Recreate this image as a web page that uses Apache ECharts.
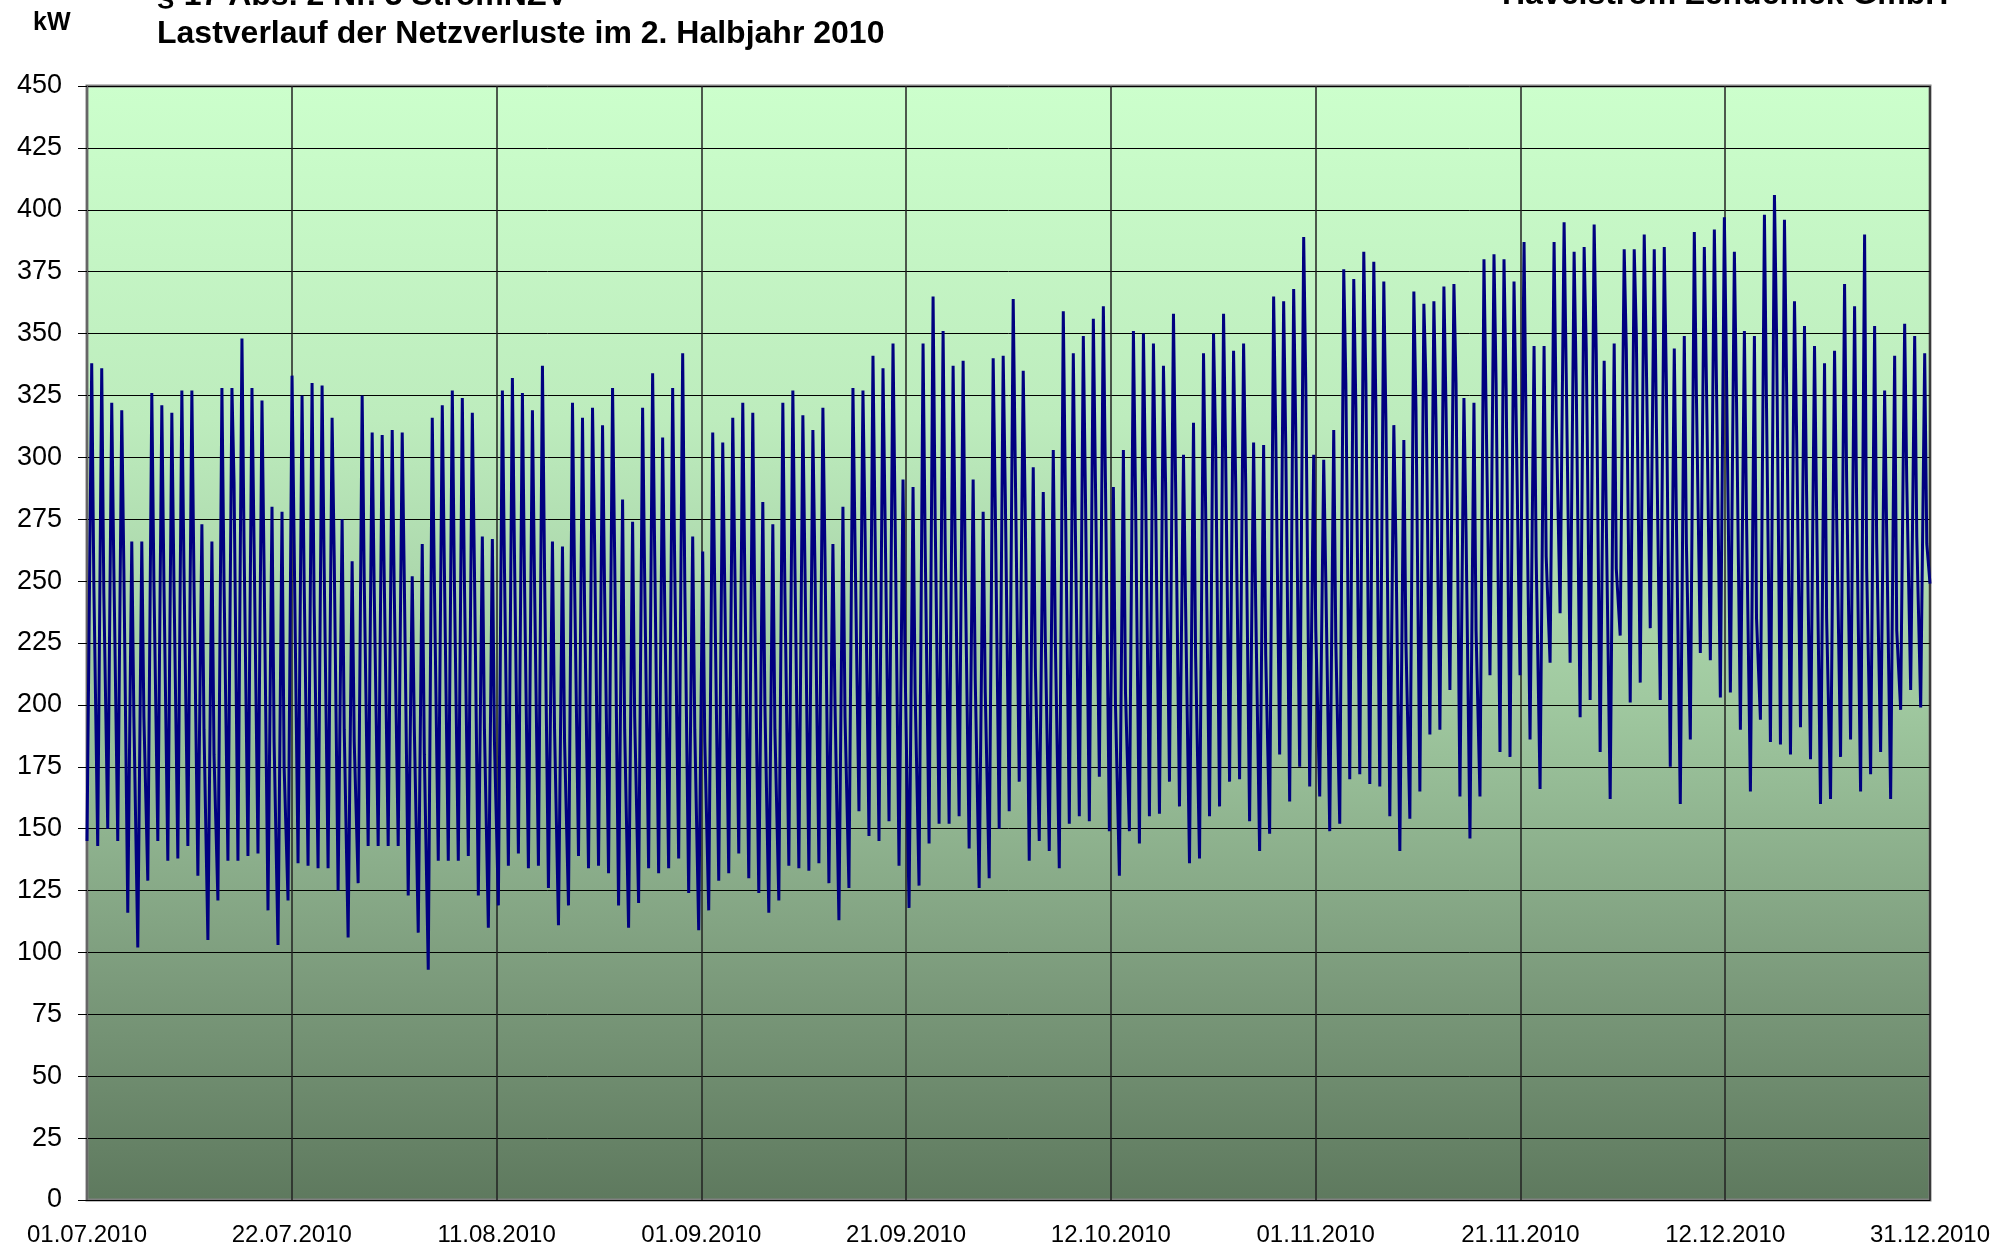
<!DOCTYPE html>
<html>
<head>
<meta charset="utf-8">
<script src="https://cdn.jsdelivr.net/npm/echarts@6/dist/echarts.min.js"></script>
<style>
  html, body { margin: 0; padding: 0; background: #fff; }
  #chart { width: 2013px; height: 1247px; }
</style>
</head>
<body>
<div id="chart"></div>
<script>
// x-axis tick labels (9 equal steps over the half year)
const dateLabels = ['01.07.2010', '22.07.2010', '11.08.2010', '01.09.2010', '21.09.2010',
  '12.10.2010', '01.11.2010', '21.11.2010', '12.12.2010', '31.12.2010'];

// daily maximum (kW), 01.07. - 31.12.
const dayPeaks = [
  338, 336, 322, 319, 266, 266, 326, 321, 318, 327, 327, 273, 266, 328, 328, 348, 328, 323, 280, 278, 333, 325, 330,
  329, 316, 275, 258, 325, 310, 309, 311, 310, 252, 265, 316, 321, 327, 324, 318, 268, 267, 327, 332, 326, 319, 337, 266,
  264, 322, 316, 320, 313, 328, 283, 274, 320, 334, 308, 328, 342, 268, 262, 310, 306, 316, 322, 318, 282, 273, 322,
  327, 317, 311, 320, 265, 280, 328, 327, 341, 336, 346, 291, 288, 346, 365, 351, 337, 339, 291, 278, 340, 341, 364,
  335, 296, 286, 303, 359, 342, 349, 356, 361, 288, 303, 351, 350, 346, 337, 358, 301, 314, 342, 350, 358, 343, 346, 306,
  305, 365, 363, 368, 389, 301, 299, 311, 376, 372, 383, 379, 371, 313, 307, 367, 362, 363, 369, 370, 324, 322, 380,
  382, 380, 371, 387, 345, 345, 387, 395, 383, 385, 394, 339, 346, 384, 384, 390, 384, 385, 344, 349, 391, 385, 392, 397,
  383, 351, 349, 398, 406, 396, 363, 353, 345, 338, 343, 370, 361, 390, 353, 327, 341, 354, 349, 342
];

// level of the afternoon / evening shoulder of each day (kW)
const eveningLevels = [
  250, 245, 255, 255, 195, 195, 250, 250, 250, 255, 250, 190, 180, 250, 290, 265, 265, 255, 185, 175, 265, 250, 240,
  255, 260, 190, 185, 250, 245, 250, 245, 250, 190, 180, 250, 255, 250, 250, 255, 190, 185, 255, 260, 250, 250, 255, 190,
  185, 250, 240, 265, 245, 260, 190, 195, 250, 260, 240, 255, 250, 190, 185, 245, 245, 255, 250, 235, 200, 190, 245,
  255, 255, 255, 260, 200, 195, 265, 270, 270, 275, 275, 215, 205, 265, 275, 265, 265, 255, 210, 205, 280, 285, 295,
  275, 215, 225, 225, 285, 270, 285, 290, 290, 200, 205, 285, 290, 285, 290, 290, 240, 220, 280, 305, 300, 290, 290, 240,
  220, 310, 305, 310, 330, 230, 250, 225, 330, 320, 330, 320, 315, 265, 225, 320, 330, 315, 320, 330, 270, 230, 320,
  330, 328, 317, 309, 260, 260, 317, 334, 330, 344, 342, 275, 255, 344, 350, 338, 315, 330, 275, 265, 325, 330, 330, 335,
  324, 276, 235, 320, 350, 330, 310, 285, 278, 235, 276, 290, 280, 255, 265, 268, 230, 290, 268, 265
];

// night minimum after each day (kW)
const nightLows = [
  143, 150, 145, 116, 102, 129, 145, 137, 138, 143, 131, 105, 121, 137, 137, 139, 140, 117, 103, 121, 136, 135, 134,
  134, 125, 106, 128, 143, 143, 143, 143, 123, 108, 93, 137, 137, 137, 139, 123, 110, 119, 135, 140, 134, 135, 126,
  111, 119, 139, 134, 135, 132, 119, 110, 120, 134, 132, 134, 138, 124, 109, 117, 129, 132, 140, 130, 124, 116, 121, 135,
  134, 133, 136, 128, 113, 126, 157, 147, 145, 153, 135, 118, 127, 144, 152, 152, 155, 142, 126, 130, 150, 157, 169,
  137, 145, 141, 134, 152, 155, 153, 171, 149, 131, 149, 144, 155, 156, 169, 159, 136, 138, 155, 159, 169, 170, 153, 141,
  148, 180, 161, 175, 167, 163, 149, 152, 170, 172, 168, 167, 155, 141, 154, 165, 188, 190, 206, 163, 146, 163, 212,
  181, 179, 212, 186, 166, 217, 237, 217, 195, 202, 181, 162, 228, 201, 209, 231, 202, 175, 160, 186, 221, 218, 203, 205,
  190, 165, 194, 185, 184, 180, 191, 178, 160, 162, 179, 186, 165, 172, 181, 162, 198, 206, 199, 249
];

const startValue = 145;

const FONT = '"Liberation Sans", Arial, Helvetica, sans-serif';

function buildPoints () {
  const days = dayPeaks.length;
  const k = (dateLabels.length - 1) / days; // days -> tick units
  const pts = [[0, startValue]];
  for (let d = 0; d < days; d++) {
    pts.push([(d + 0.47) * k, dayPeaks[d]]);
    pts.push([(d + 0.68) * k, eveningLevels[d]]);
    pts.push([Math.min(d + 1.07, days) * k, nightLows[d]]);
  }
  return pts;
}

const chart = echarts.init(document.getElementById('chart'), null, { renderer: 'canvas' });

const option = {
  animation: false,
  backgroundColor: '#fff',
  grid: {
    show: true,
    left: 87,
    top: 86,
    width: 1843,
    height: 1114,
    borderColor: '#808080',
    borderWidth: 3,
    backgroundColor: new echarts.graphic.LinearGradient(0, 0, 0, 1, [
      { offset: 0, color: '#ccffcc' },
      { offset: 0.3, color: '#bdecbd' },
      { offset: 0.55, color: '#a0c9a0' },
      { offset: 0.8, color: '#7c9b7c' },
      { offset: 1, color: '#5e795e' }
    ])
  },
  xAxis: {
    type: 'value',
    min: 0,
    max: dateLabels.length - 1,
    interval: 1,
    axisLine: { show: true, lineStyle: { color: '#000', width: 1 } },
    axisTick: { show: false },
    splitLine: { show: true, lineStyle: { color: '#222', width: 1.5 } },
    axisLabel: {
      color: '#000',
      fontFamily: FONT,
      fontSize: 24,
      margin: 23,
      showMinLabel: true,
      showMaxLabel: true,
      formatter: v => dateLabels[Math.round(v)] || ''
    }
  },
  yAxis: {
    type: 'value',
    min: 0,
    max: 450,
    interval: 25,
    axisLine: { show: true, lineStyle: { color: '#666', width: 2 } },
    axisTick: { show: true, inside: false, length: 9, lineStyle: { color: '#000', width: 1 } },
    splitLine: { show: true, lineStyle: { color: '#000', width: 1 } },
    axisLabel: {
      color: '#000',
      fontFamily: FONT,
      fontSize: 27,
      margin: 25
    }
  },
  series: [{
    type: 'line',
    data: buildPoints(),
    showSymbol: false,
    symbol: 'none',
    sampling: null,
    lineStyle: { color: '#000080', width: 3 },
    z: 5
  }],
  graphic: [
    {
      type: 'text', left: 157, top: -20,
      style: { text: '§ 17 Abs. 2 Nr. 3 StromNZV', font: 'bold 32px ' + FONT, fill: '#000' }
    },
    {
      type: 'text', left: 157, top: 18,
      style: { text: 'Lastverlauf der Netzverluste im 2. Halbjahr 2010', font: 'bold 32px ' + FONT, fill: '#000' }
    },
    {
      type: 'text', left: 1502, top: -21,
      style: { text: 'Havelstrom Zehdenick GmbH', font: 'bold 32px ' + FONT, fill: '#000' }
    },
    {
      type: 'text', left: 33, top: 11,
      style: { text: 'kW', font: 'bold 25px ' + FONT, fill: '#000' }
    }
  ]
};

chart.setOption(option);
</script>
</body>
</html>
